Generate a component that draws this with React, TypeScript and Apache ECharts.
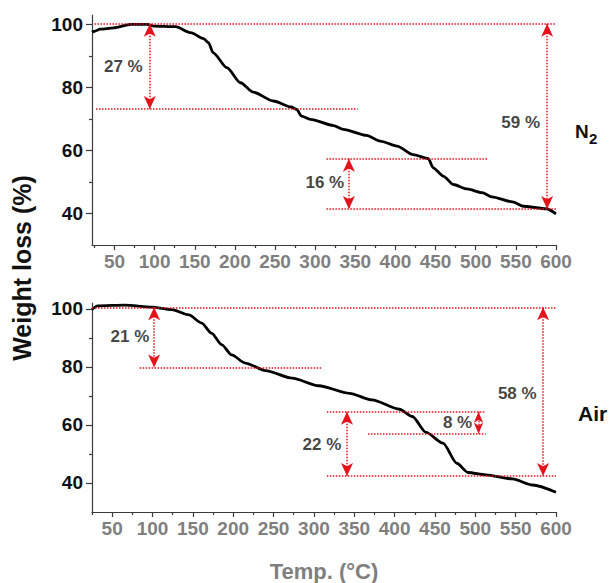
import React, { useEffect, useRef } from "react";
import * as echarts from "echarts";

// Thermogravimetric curves: temperature (°C) vs remaining weight (%)
const n2Temp = [22, 26, 32, 49, 70, 91, 99, 126, 145, 161, 167, 173, 190, 207, 223, 248, 270, 277, 283, 294, 323, 335, 364, 381, 402, 422, 441, 447, 460, 472, 489, 508, 520, 546, 559, 588, 600];
const n2Weight = [97.5, 97.9, 98.5, 98.9, 100.0, 100.0, 99.5, 99.3, 97.4, 95.5, 94.2, 91.0, 86.3, 81.5, 78.5, 75.7, 73.8, 73.0, 70.9, 69.9, 67.9, 66.7, 64.8, 63.0, 61.4, 58.7, 57.4, 54.5, 51.8, 49.2, 47.8, 46.6, 45.3, 43.7, 42.3, 41.5, 39.9];

const airTemp = [25, 32, 66, 99, 124, 145, 161, 173, 186, 198, 215, 240, 273, 306, 344, 372, 406, 422, 439, 460, 477, 491, 513, 546, 571, 600];
const airWeight = [99.8, 101.0, 101.3, 100.6, 99.7, 97.9, 95.1, 91.6, 87.6, 84.1, 81.3, 78.7, 76.1, 73.5, 70.9, 68.6, 65.4, 62.9, 57.4, 53.7, 46.8, 43.6, 42.8, 41.4, 39.3, 36.8];

// Guide lines: [fromTemp, toTemp, weight level]
const n2Guides = [[25, 600, 100.2], [27, 353, 73.2], [314, 515, 57.4], [314, 600, 41.4]];
const airGuides = [[25, 600, 100.5], [84, 309, 79.8], [316, 513, 64.5], [367, 513, 57.0], [316, 600, 42.4]];

// Double arrows: [temp, upper level, lower level]
const n2Arrows = [[94, 100.2, 73.2], [342, 57.4, 41.4], [589, 100.2, 41.4]];
const airArrows = [[102, 100.5, 79.8], [504, 64.5, 57.0], [341, 64.5, 42.4], [584, 100.5, 42.4]];

// Step labels: [text, temp, weight]
const n2Labels: [string, number, number][] = [["27 %", 61, 86.7], ["16 %", 312, 49.8], ["59 %", 556, 68.9]];
const airLabels: [string, number, number][] = [["21 %", 72, 90.3], ["8 %", 478, 60.8], ["22 %", 310, 53.1], ["58 %", 552, 70.7]];

const xMajor = [50, 100, 150, 200, 250, 300, 350, 400, 450, 500, 550, 600];
const xMinor = [25, 75, 125, 175, 225, 275, 325, 375, 425, 475, 525, 575];
const yMajor = [40, 60, 80, 100];
const yMinor = [50, 70, 90];

const FONT = '"Liberation Sans", Arial, Helvetica, sans-serif';
const RED = "#e3121b";
const AXIS = "#3a3a3a";

function buildPanel(
  idx: number,
  temps: number[],
  weights: number[],
  guides: number[][],
  arrows: number[][],
  labels: [string, number, number][],
  xMin: number,
  yMax: number
) {
  const xa = idx * 2;
  const ya = idx * 2;
  const xAxes = [
    {
      type: "value",
      gridIndex: idx,
      position: "bottom",
      min: xMin,
      max: 600,
      axisLine: { show: true, lineStyle: { color: AXIS, width: 1.2 } },
      axisTick: { show: true, customValues: xMajor, length: 5, lineStyle: { color: AXIS, width: 1.2 } },
      axisLabel: {
        customValues: xMajor,
        color: "#7f7f7f",
        fontSize: 19,
        fontWeight: "bold",
        fontFamily: FONT,
        margin: 7,
      },
      splitLine: { show: false },
    },
    {
      type: "value",
      gridIndex: idx,
      position: "bottom",
      min: xMin,
      max: 600,
      axisLine: { show: false },
      axisTick: { show: true, customValues: xMinor, length: 3, lineStyle: { color: AXIS, width: 1.2 } },
      axisLabel: { show: false },
      splitLine: { show: false },
    },
  ];
  const yAxes = [
    {
      type: "value",
      gridIndex: idx,
      position: "left",
      min: 30,
      max: yMax,
      axisLine: { show: true, lineStyle: { color: AXIS, width: 1.2 } },
      axisTick: { show: true, customValues: yMajor, length: 6, lineStyle: { color: AXIS, width: 1.2 } },
      axisLabel: {
        customValues: yMajor,
        color: "#111",
        fontSize: 19,
        fontWeight: "bold",
        fontFamily: FONT,
        margin: 9,
      },
      splitLine: { show: false },
    },
    {
      type: "value",
      gridIndex: idx,
      position: "left",
      min: 30,
      max: yMax,
      axisLine: { show: false },
      axisTick: { show: true, customValues: yMinor, length: 3, lineStyle: { color: AXIS, width: 1.2 } },
      axisLabel: { show: false },
      splitLine: { show: false },
    },
  ];
  const dotted = { type: "dotted", color: RED, width: 1.5 };
  const series = [
    {
      type: "line",
      xAxisIndex: xa,
      yAxisIndex: ya,
      data: temps.map((t, k) => [t, weights[k]]),
      showSymbol: false,
      smooth: 0.25,
      smoothMonotone: "x",
      lineStyle: { color: "#000", width: 2.8 },
      z: 3,
      markLine: {
        silent: true,
        symbol: ["none", "none"],
        lineStyle: dotted,
        label: { show: false },
        emphasis: { disabled: true },
        data: guides.map(([a, b, v]) => [{ coord: [a, v] }, { coord: [b, v] }]),
      },
    },
    {
      type: "scatter",
      xAxisIndex: xa,
      yAxisIndex: ya,
      symbolSize: 0,
      silent: true,
      z: 4,
      data: labels.map(([name, t, v]) => ({ name, value: [t, v] })),
      label: {
        show: true,
        position: "inside",
        formatter: "{b}",
        color: "#111",
        fontSize: 17,
        fontWeight: "bold",
        fontFamily: FONT,
      },
      markLine: {
        silent: true,
        symbol: ["arrow", "arrow"],
        lineStyle: dotted,
        itemStyle: { color: RED },
        label: { show: false },
        emphasis: { disabled: true },
        data: arrows.map(([t, a, b]) => {
          const small = Math.abs(a - b) < 10;
          const size = small ? [7, 11] : [9, 13];
          const end = { symbol: "arrow", symbolSize: size };
          return [
            { coord: [t, a], ...end },
            { coord: [t, b], ...end },
          ];
        }),
      },
    },
  ];
  return { xAxes, yAxes, series };
}

export default function App() {
  const ref = useRef<HTMLDivElement>(null);

  useEffect(() => {
    if (!ref.current) return;
    const chart = echarts.init(ref.current, null, { renderer: "svg" });
    const top = buildPanel(0, n2Temp, n2Weight, n2Guides, n2Arrows, n2Labels, 22, 103);
    const bottom = buildPanel(1, airTemp, airWeight, airGuides, airArrows, airLabels, 25, 102);

    chart.setOption({
      animation: false,
      backgroundColor: "#fff",
      grid: [
        { left: 92, right: 56, top: 15, height: 230 },
        { left: 92, right: 56, top: 303, height: 209 },
      ],
      xAxis: [...top.xAxes, ...bottom.xAxes],
      yAxis: [...top.yAxes, ...bottom.yAxes],
      series: [...top.series, ...bottom.series],
      graphic: [
        {
          type: "text",
          x: 22,
          y: 268,
          rotation: Math.PI / 2,
          style: {
            text: "Weight loss (%)",
            fontSize: 25,
            fontWeight: "bold",
            fontFamily: FONT,
            fill: "#111",
            textAlign: "center",
            textVerticalAlign: "middle",
          },
        },
        {
          type: "text",
          x: 324,
          y: 571,
          style: {
            text: "Temp. (°C)",
            fontSize: 22,
            fontWeight: "bold",
            fontFamily: FONT,
            fill: "#7f7f7f",
            textAlign: "center",
            textVerticalAlign: "middle",
          },
        },
        {
          type: "text",
          x: 575,
          y: 131,
          style: {
            text: "N",
            fontSize: 19,
            fontWeight: "bold",
            fontFamily: FONT,
            fill: "#111",
            textAlign: "left",
            textVerticalAlign: "middle",
          },
        },
        {
          type: "text",
          x: 589,
          y: 138,
          style: {
            text: "2",
            fontSize: 15,
            fontWeight: "bold",
            fontFamily: FONT,
            fill: "#111",
            textAlign: "left",
            textVerticalAlign: "middle",
          },
        },
        {
          type: "text",
          x: 578,
          y: 413,
          style: {
            text: "Air",
            fontSize: 21,
            fontWeight: "bold",
            fontFamily: FONT,
            fill: "#111",
            textAlign: "left",
            textVerticalAlign: "middle",
          },
        },
      ],
    });

    return () => {
      chart.dispose();
    };
  }, []);

  return (
    <div
      ref={ref}
      style={{ position: "fixed", left: 0, top: 0, width: 612, height: 583 }}
    />
  );
}
